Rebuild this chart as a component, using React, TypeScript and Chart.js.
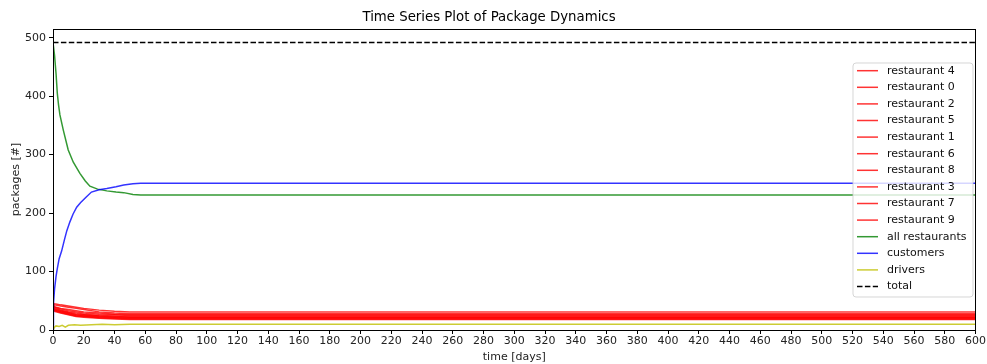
import React, { useEffect, useRef } from 'react';
import { Chart, registerables } from 'chart.js';

Chart.register(...registerables);

const TITLE = 'Time Series Plot of Package Dynamics';
const X_LABEL = 'time [days]';
const Y_LABEL = 'packages [#]';

// Restaurant series share these time points (days)
const RESTAURANT_TIMES = [0, 1, 5, 10, 15, 20, 30, 40, 50, 57, 600];
const RESTAURANT_LABELS = [
  'restaurant 4', 'restaurant 0', 'restaurant 2', 'restaurant 5', 'restaurant 1',
  'restaurant 6', 'restaurant 8', 'restaurant 3', 'restaurant 7', 'restaurant 9',
];
const R4 = [46, 45, 43, 41, 39, 37, 34, 32, 31, 31, 31];
const R0 = [45, 43, 41, 39, 37, 35, 31, 29, 28, 28, 28];
const R2 = [44, 40, 37, 35, 33, 31, 29, 27, 26, 26, 26];
const R5 = [43, 39, 36, 33, 31, 29, 27, 26, 25, 25, 25];
const R1 = [42, 38, 34, 31, 29, 27, 25, 24, 23, 23, 23];
const R6 = [41, 36, 33, 30, 27, 26, 24, 23, 22, 22, 22];
const R8 = [40, 35, 32, 29, 26, 25, 23, 22, 21, 21, 21];
const R3 = [39, 34, 31, 28, 25, 24, 22, 21, 20, 20, 20];
const R7 = [38, 33, 30, 27, 24, 23, 21, 20, 19, 19, 19];
const R9 = [37, 32, 29, 26, 23, 22, 20, 19, 18, 18, 18];
const RESTAURANT_VALUES = [R4, R0, R2, R5, R1, R6, R8, R3, R7, R9];

const GREEN_T = [0, 1, 2, 2.8, 3.6, 4.5, 6.7, 9.9, 13.2, 17.5, 21, 24, 29, 35, 41, 46, 52, 57, 600];
const GREEN_V = [492, 470, 438, 405, 385, 368, 342, 308, 287, 268, 255, 246, 241, 238, 236, 235, 232, 231, 231];

const BLUE_T = [0, 0.3, 1, 2, 2.8, 4, 5.6, 7.5, 9, 11, 13, 15.4, 18, 21.8, 25, 30, 35, 41, 46, 52, 57, 600];
const BLUE_V = [0, 45, 70, 92, 105, 122, 135, 155, 170, 185, 198, 210, 218, 228, 236, 240, 242, 245, 248, 250, 251, 251];

const YEL_T = [0, 1, 2, 4, 6, 8, 10, 14, 18, 25, 32, 40, 50, 57, 600];
const YEL_V = [0, 5, 7, 6, 8, 5, 8, 9, 8, 9, 10, 9, 10, 10, 10];

const TOTAL_T = [0, 600];
const TOTAL_V = [492, 492];

const X_MIN = 0;
const X_MAX = 600;
const X_STEP = 20;
const Y_MIN = 0;
const Y_MAX = 515;
const Y_STEP = 100;
const Y_TICK_TOP = 500;

const FONT = 'DejaVu Sans';

function pts(t: number[], v: number[]) {
  return t.map((x, i) => ({ x, y: v[i] }));
}

export default function App() {
  const ref = useRef<HTMLCanvasElement>(null);
  useEffect(() => {
    document.body.style.margin = '0';
    const datasets: any[] = [];
    RESTAURANT_LABELS.forEach((label, i) => {
      datasets.push({
        label,
        data: pts(RESTAURANT_TIMES, RESTAURANT_VALUES[i]),
        borderColor: 'rgba(255,0,0,0.8)',
      });
    });
    datasets.push({ label: 'all restaurants', data: pts(GREEN_T, GREEN_V), borderColor: 'rgba(0,128,0,0.8)' });
    datasets.push({ label: 'customers', data: pts(BLUE_T, BLUE_V), borderColor: 'rgba(0,0,255,0.8)' });
    datasets.push({ label: 'drivers', data: pts(YEL_T, YEL_V), borderColor: 'rgba(191,191,0,0.8)' });
    datasets.push({ label: 'total', data: pts(TOTAL_T, TOTAL_V), borderColor: '#000', borderDash: [5.5, 2.4] });
    const n = datasets.length;
    datasets.forEach((d, i) => {
      d.order = n - i;
      d.borderWidth = 1.5;
      d.pointRadius = 0;
      d.tension = 0;
      d.fill = false;
    });

    const mplPlugin = {
      id: 'mplDecor',
      afterDatasetsDraw(chart: any) {
        const { ctx, chartArea } = chart;
        const { left, top, right, bottom } = chartArea;
        ctx.save();
        ctx.strokeStyle = '#000';
        ctx.lineWidth = 1;
        ctx.strokeRect(Math.round(left) + 0.5, Math.round(top) + 0.5, Math.round(right - left) - 1, Math.round(bottom - top));
        // legend
        const bx = 853, by = 63, bw = 120, bh = 234, r = 3;
        ctx.beginPath();
        ctx.moveTo(bx + r, by);
        ctx.lineTo(bx + bw - r, by);
        ctx.arcTo(bx + bw, by, bx + bw, by + r, r);
        ctx.lineTo(bx + bw, by + bh - r);
        ctx.arcTo(bx + bw, by + bh, bx + bw - r, by + bh, r);
        ctx.lineTo(bx + r, by + bh);
        ctx.arcTo(bx, by + bh, bx, by + bh - r, r);
        ctx.lineTo(bx, by + r);
        ctx.arcTo(bx, by, bx + r, by, r);
        ctx.closePath();
        ctx.fillStyle = 'rgba(255,255,255,0.8)';
        ctx.fill();
        ctx.strokeStyle = 'rgba(204,204,204,0.8)';
        ctx.lineWidth = 1;
        ctx.stroke();
        ctx.font = `11px "${FONT}"`;
        ctx.textBaseline = 'middle';
        ctx.textAlign = 'left';
        chart.data.datasets.forEach((d: any, i: number) => {
          const y = 70.7 + i * 16.6;
          ctx.beginPath();
          ctx.strokeStyle = d.borderColor;
          ctx.lineWidth = 1.5;
          ctx.setLineDash(d.borderDash || []);
          ctx.moveTo(857, y);
          ctx.lineTo(878, y);
          ctx.stroke();
          ctx.setLineDash([]);
          ctx.fillStyle = '#111';
          ctx.fillText(d.label, 887, y);
        });
        ctx.restore();
      },
    };

    const chart = new Chart(ref.current!, {
      type: 'line',
      data: { datasets },
      plugins: [mplPlugin],
      options: {
        animation: false,
        responsive: false,
        devicePixelRatio: 1,
        layout: { autoPadding: false, padding: { top: 0, right: 9, left: 0, bottom: 0 } },
        plugins: {
          legend: { display: false },
          tooltip: { enabled: false },
          title: {
            display: true,
            text: TITLE,
            color: '#000',
            font: { family: FONT, size: 13.3, weight: 'normal' },
            padding: { top: 10, bottom: 3 },
          },
        },
        scales: {
          x: {
            type: 'linear',
            min: X_MIN,
            max: X_MAX,
            afterFit: (s: any) => { s.height = 34; },
            border: { display: false },
            grid: { drawOnChartArea: false, drawTicks: true, tickLength: 4, color: '#000' },
            ticks: {
              stepSize: X_STEP,
              autoSkip: false,
              maxRotation: 0,
              padding: 1,
              color: '#222',
              font: { family: FONT, size: 11 },
            },
            title: {
              display: true,
              text: X_LABEL,
              color: '#222',
              font: { family: FONT, size: 11 },
              padding: { top: 0, bottom: 0.4 },
            },
          },
          y: {
            type: 'linear',
            min: Y_MIN,
            max: Y_MAX,
            afterFit: (s: any) => { s.width = 53; },
            afterBuildTicks: (s: any) => {
              const t: any[] = [];
              for (let v = Y_MIN; v <= Y_TICK_TOP; v += Y_STEP) t.push({ value: v });
              s.ticks = t;
            },
            border: { display: false },
            grid: { drawOnChartArea: false, drawTicks: true, tickLength: 4, color: '#000' },
            ticks: {
              stepSize: Y_STEP,
              padding: 3,
              color: '#222',
              font: { family: FONT, size: 11 },
            },
            title: {
              display: true,
              text: Y_LABEL,
              color: '#222',
              font: { family: FONT, size: 11 },
              padding: { top: 9.4, bottom: 0 },
            },
          },
        },
      } as any,
    });
    return () => chart.destroy();
  }, []);
  return (
    <div style={{ width: 987, height: 364, position: 'relative' }}>
      <canvas ref={ref} width={987} height={364} style={{ display: 'block' }} />
    </div>
  );
}
